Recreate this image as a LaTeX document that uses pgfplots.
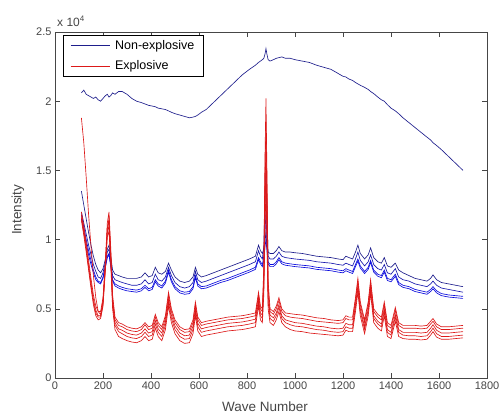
\documentclass[border=0pt]{standalone}
\usepackage{fontspec}
\setmainfont{Liberation Sans}
\usepackage{pgfplots}
\usepackage{pgfplotstable}
\pgfplotsset{compat=1.18}
\definecolor{nblue}{RGB}{30,30,140}
\definecolor{mblue}{RGB}{10,10,220}
\definecolor{mred}{RGB}{220,25,25}
\definecolor{axgray}{RGB}{70,70,70}

\pgfplotstableread{
x T B1 B2 B3 B4 R1 R2 R3 R4 R5
110 2.06 1.35 1.20 1.18 1.15 1.88 1.20 1.18 1.16 1.14
120 2.08 1.25 1.12 1.09 1.06 1.70 1.10 1.07 1.05 1.03
130 2.05 1.15 1.04 1.00 0.97 1.45 0.98 0.95 0.93 0.91
140 2.04 1.05 0.96 0.92 0.89 1.18 0.85 0.82 0.80 0.78
150 2.03 0.96 0.89 0.85 0.82 0.95 0.72 0.69 0.67 0.65
160 2.02 0.88 0.82 0.78 0.76 0.74 0.60 0.57 0.55 0.53
170 2.03 0.82 0.77 0.73 0.71 0.58 0.52 0.49 0.47 0.45
180 2.01 0.78 0.73 0.70 0.69 0.48 0.48 0.45 0.44 0.42
190 2.00 0.76 0.72 0.69 0.68 0.46 0.48 0.45 0.44 0.43
200 2.02 0.79 0.76 0.73 0.72 0.56 0.58 0.55 0.53 0.52
210 2.04 0.86 0.84 0.81 0.80 0.82 0.85 0.82 0.80 0.78
218 2.05 0.93 0.91 0.88 0.87 1.08 1.12 1.08 1.05 1.02
225 2.03 0.96 0.93 0.90 0.89 1.15 1.20 1.14 1.10 1.06
232 2.04 0.88 0.85 0.82 0.81 0.92 0.95 0.90 0.87 0.84
240 2.06 0.78 0.74 0.71 0.70 0.57 0.60 0.55 0.53 0.50
250 2.05 0.75 0.71 0.68 0.665 0.42 0.44 0.40 0.38 0.35
265 2.07 0.74 0.70 0.665 0.65 0.38 0.40 0.355 0.335 0.30
280 2.07 0.73 0.69 0.655 0.64 0.37 0.39 0.345 0.32 0.285
300 2.05 0.72 0.68 0.645 0.63 0.35 0.37 0.325 0.30 0.27
320 2.02 0.72 0.67 0.64 0.625 0.34 0.36 0.315 0.29 0.26
340 2.00 0.72 0.67 0.635 0.62 0.335 0.355 0.31 0.285 0.255
360 1.99 0.73 0.68 0.645 0.63 0.35 0.37 0.325 0.30 0.27
375 1.98 0.76 0.71 0.67 0.655 0.385 0.40 0.355 0.33 0.30
390 1.97 0.73 0.68 0.645 0.63 0.35 0.37 0.325 0.30 0.27
405 1.965 0.74 0.69 0.655 0.64 0.36 0.38 0.335 0.31 0.28
418 1.96 0.80 0.75 0.71 0.695 0.44 0.46 0.415 0.39 0.36
430 1.95 0.76 0.71 0.68 0.665 0.38 0.40 0.355 0.33 0.30
445 1.945 0.75 0.70 0.665 0.65 0.35 0.37 0.325 0.30 0.27
460 1.94 0.77 0.73 0.70 0.685 0.43 0.45 0.405 0.38 0.35
473 1.93 0.83 0.80 0.78 0.765 0.60 0.62 0.57 0.55 0.52
485 1.92 0.78 0.74 0.71 0.695 0.48 0.50 0.455 0.43 0.40
500 1.91 0.73 0.69 0.66 0.645 0.40 0.42 0.375 0.35 0.32
520 1.90 0.70 0.66 0.63 0.615 0.35 0.37 0.325 0.30 0.27
540 1.89 0.69 0.65 0.62 0.605 0.33 0.35 0.305 0.28 0.25
560 1.88 0.70 0.66 0.625 0.61 0.335 0.355 0.31 0.285 0.255
575 1.885 0.73 0.69 0.66 0.645 0.40 0.42 0.375 0.35 0.32
585 1.89 0.80 0.77 0.74 0.725 0.53 0.55 0.50 0.48 0.45
595 1.90 0.75 0.71 0.68 0.665 0.42 0.44 0.395 0.37 0.34
610 1.92 0.73 0.69 0.66 0.645 0.38 0.40 0.355 0.33 0.30
630 1.94 0.74 0.70 0.665 0.65 0.39 0.41 0.365 0.34 0.31
660 1.99 0.76 0.72 0.685 0.67 0.40 0.42 0.375 0.35 0.32
690 2.04 0.78 0.74 0.705 0.69 0.41 0.43 0.385 0.36 0.33
720 2.09 0.80 0.76 0.72 0.705 0.42 0.44 0.395 0.37 0.34
750 2.14 0.82 0.78 0.74 0.725 0.425 0.445 0.40 0.375 0.345
780 2.19 0.84 0.80 0.76 0.745 0.43 0.45 0.405 0.38 0.35
810 2.23 0.86 0.82 0.78 0.765 0.44 0.46 0.415 0.39 0.36
835 2.26 0.88 0.84 0.80 0.785 0.45 0.47 0.425 0.40 0.37
848 2.28 0.96 0.92 0.87 0.855 0.60 0.62 0.57 0.55 0.52
856 2.29 0.92 0.88 0.84 0.825 0.50 0.52 0.47 0.45 0.42
864 2.30 0.90 0.86 0.82 0.805 0.48 0.50 0.455 0.43 0.40
870 2.31 0.93 0.95 0.88 0.85 0.75 0.80 0.70 0.65 0.60
875 2.34 1.00 1.30 1.05 0.95 1.50 1.60 1.35 1.20 1.05
879 2.38 1.05 1.48 1.20 1.00 1.85 2.02 1.70 1.55 1.40
883 2.34 0.95 1.20 1.00 0.92 1.40 1.50 1.30 1.15 1.00
888 2.30 0.91 0.88 0.84 0.825 0.65 0.70 0.60 0.55 0.50
896 2.29 0.90 0.86 0.82 0.805 0.48 0.50 0.455 0.43 0.40
910 2.30 0.90 0.86 0.82 0.805 0.46 0.48 0.435 0.41 0.38
922 2.31 0.92 0.88 0.84 0.825 0.50 0.52 0.47 0.45 0.42
933 2.315 0.95 0.91 0.87 0.855 0.56 0.58 0.53 0.51 0.48
945 2.32 0.92 0.88 0.84 0.825 0.48 0.50 0.45 0.43 0.40
960 2.31 0.91 0.87 0.83 0.815 0.45 0.47 0.42 0.40 0.37
980 2.31 0.91 0.865 0.825 0.81 0.44 0.465 0.41 0.385 0.35
1000 2.30 0.905 0.86 0.82 0.805 0.435 0.46 0.40 0.375 0.34
1030 2.29 0.90 0.855 0.815 0.80 0.43 0.455 0.395 0.37 0.335
1060 2.28 0.89 0.85 0.81 0.795 0.42 0.445 0.385 0.36 0.325
1090 2.26 0.88 0.84 0.80 0.785 0.41 0.435 0.375 0.35 0.32
1120 2.245 0.875 0.835 0.795 0.78 0.405 0.43 0.37 0.345 0.315
1150 2.23 0.87 0.83 0.79 0.775 0.40 0.42 0.36 0.335 0.31
1180 2.20 0.86 0.82 0.78 0.765 0.395 0.415 0.355 0.33 0.305
1200 2.18 0.855 0.815 0.775 0.76 0.40 0.42 0.36 0.335 0.31
1212 2.175 0.88 0.83 0.79 0.775 0.43 0.45 0.395 0.37 0.345
1225 2.16 0.87 0.82 0.78 0.765 0.42 0.44 0.385 0.36 0.335
1240 2.15 0.86 0.81 0.77 0.755 0.42 0.44 0.385 0.36 0.335
1252 2.135 0.91 0.86 0.82 0.805 0.56 0.58 0.53 0.51 0.48
1262 2.125 0.96 0.91 0.86 0.845 0.70 0.72 0.67 0.65 0.62
1272 2.115 0.90 0.85 0.81 0.795 0.53 0.55 0.50 0.48 0.45
1290 2.10 0.86 0.81 0.77 0.755 0.40 0.42 0.37 0.35 0.32
1305 2.085 0.89 0.84 0.80 0.785 0.53 0.55 0.50 0.48 0.45
1315 2.07 0.94 0.89 0.85 0.835 0.69 0.71 0.66 0.64 0.61
1328 2.055 0.87 0.82 0.78 0.765 0.48 0.50 0.45 0.43 0.40
1345 2.03 0.84 0.79 0.75 0.735 0.44 0.46 0.41 0.39 0.36
1360 2.01 0.83 0.78 0.74 0.725 0.42 0.44 0.39 0.37 0.34
1372 2.00 0.87 0.82 0.78 0.765 0.53 0.55 0.50 0.48 0.45
1385 1.975 0.81 0.76 0.72 0.705 0.38 0.40 0.35 0.33 0.30
1400 1.95 0.80 0.75 0.71 0.695 0.36 0.38 0.33 0.31 0.285
1418 1.93 0.83 0.79 0.75 0.735 0.49 0.51 0.46 0.44 0.41
1432 1.91 0.78 0.73 0.69 0.675 0.38 0.40 0.35 0.33 0.30
1450 1.88 0.76 0.71 0.67 0.655 0.36 0.38 0.33 0.31 0.285
1475 1.845 0.74 0.70 0.66 0.645 0.36 0.38 0.33 0.305 0.28
1500 1.81 0.72 0.68 0.64 0.625 0.36 0.38 0.33 0.305 0.28
1525 1.775 0.71 0.67 0.63 0.615 0.355 0.375 0.325 0.30 0.275
1550 1.74 0.70 0.66 0.62 0.605 0.36 0.38 0.33 0.305 0.28
1565 1.72 0.72 0.68 0.64 0.625 0.39 0.41 0.36 0.335 0.31
1575 1.70 0.745 0.70 0.66 0.645 0.41 0.43 0.385 0.36 0.335
1590 1.68 0.71 0.67 0.63 0.615 0.37 0.39 0.345 0.32 0.295
1610 1.65 0.69 0.65 0.61 0.595 0.35 0.37 0.325 0.30 0.28
1640 1.60 0.68 0.64 0.60 0.585 0.35 0.37 0.325 0.30 0.28
1670 1.55 0.67 0.63 0.595 0.58 0.355 0.375 0.33 0.305 0.285
1700 1.50 0.66 0.62 0.59 0.575 0.36 0.38 0.335 0.31 0.29
}\spectra

\begin{document}
\begin{tikzpicture}
\useasboundingbox (-55pt,-38pt) rectangle (445pt,378pt);
\begin{axis}[
  name=ax,
  at={(0pt,0pt)}, anchor=south west,
  scale only axis, width=432pt, height=346pt,
  xmin=0, xmax=1800, ymin=0, ymax=2.5,
  xtick={0,200,400,600,800,1000,1200,1400,1600,1800},
  xticklabels={0,200,400,600,800,1000,1200,1400,1600,1800},
  ytick={0,0.5,1,1.5,2,2.5},
  yticklabels={0,0.5,1,1.5,2,2.5},
  tick align=inside, xtick pos=both, ytick pos=both,
  major tick length=5pt,
  tick style={axgray, line width=0.5pt},
  axis line style={axgray, line width=0.6pt},
  ticklabel style={font=\fontsize{11}{13}\selectfont, text=axgray},
  /pgf/number format/assume math mode=true,
  xlabel={Wave Number}, ylabel={Intensity},
  label style={font=\fontsize{13.5}{15}\selectfont, text=axgray},
  xlabel style={at={(axis description cs:0.486,0)}, anchor=center, yshift=-28.5pt},
  ylabel style={at={(axis description cs:0,0.486)}, anchor=center, yshift=37pt},
  legend style={at={(axis description cs:0,1)}, anchor=north west, xshift=8pt, yshift=-3pt,
    draw=black, line width=0.6pt, font=\fontsize{12.5}{14}\selectfont,
    inner xsep=7pt, inner ysep=3pt, row sep=6pt},
  legend cell align=left,
  legend image code/.code={\draw[#1, line width=0.8pt] (0pt,0pt) -- (39pt,0pt);},
  every axis plot/.append style={line width=0.65pt},
]
\addplot[nblue] table[x=x, y=T] {\spectra};
\addlegendentry{\hspace{3pt}Non-explosive}
\addplot[nblue, forget plot] table[x=x, y=B1] {\spectra};
\addplot[nblue!60!mblue, forget plot] table[x=x, y=B2] {\spectra};
\addplot[mblue, forget plot] table[x=x, y=B3] {\spectra};
\addplot[mblue, forget plot] table[x=x, y=B4] {\spectra};
\addplot[mred] table[x=x, y=R1] {\spectra};
\addlegendentry{\hspace{3pt}Explosive}
\addplot[mred, forget plot] table[x=x, y=R2] {\spectra};
\addplot[mred, forget plot] table[x=x, y=R3] {\spectra};
\addplot[mred, forget plot] table[x=x, y=R4] {\spectra};
\addplot[mred, forget plot] table[x=x, y=R5] {\spectra};
\end{axis}
\node[anchor=base west, font=\fontsize{12}{14}\selectfont, text=axgray, inner sep=0pt]
  at ([xshift=2pt, yshift=6pt]ax.north west) {x 10\textsuperscript{4}};
\end{tikzpicture}
\end{document}
